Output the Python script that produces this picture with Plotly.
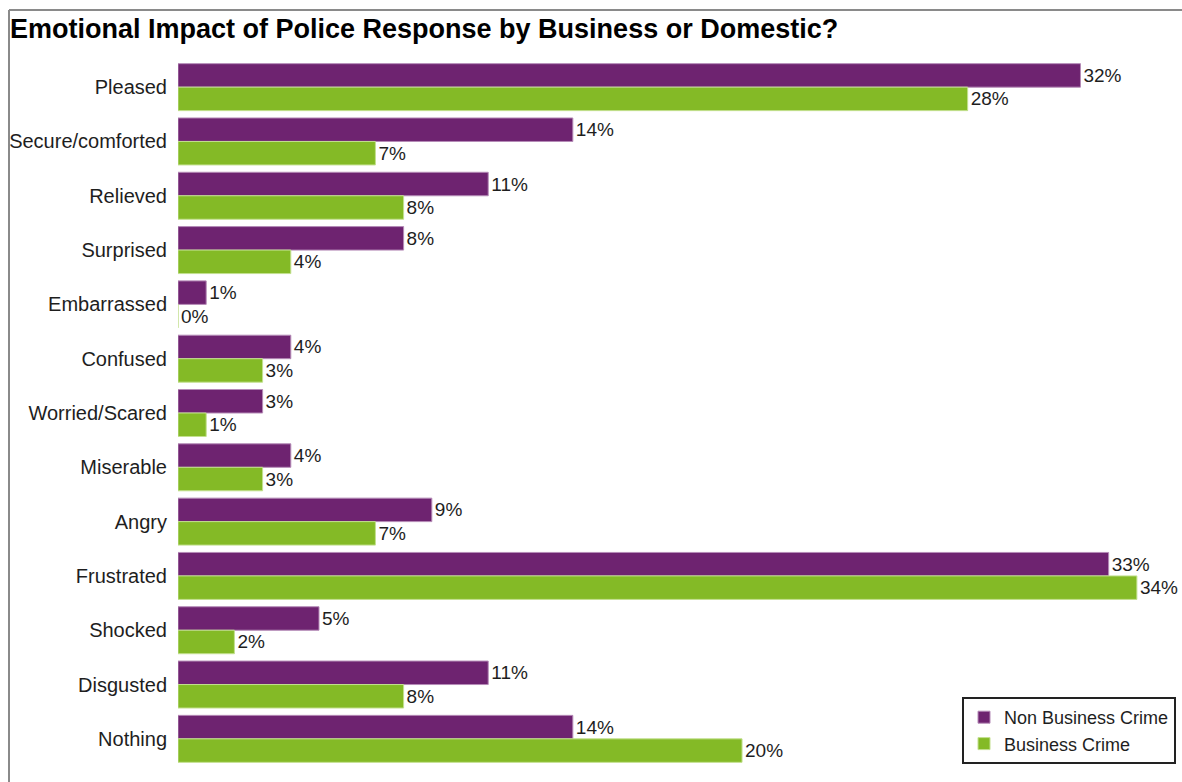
import plotly.graph_objects as go

# Emotional reactions to the police response, percent of respondents
categories = ["Pleased", "Secure/comforted", "Relieved", "Surprised", "Embarrassed",
              "Confused", "Worried/Scared", "Miserable", "Angry", "Frustrated",
              "Shocked", "Disgusted", "Nothing"]
non_business = [32, 14, 11, 8, 1, 4, 3, 4, 9, 33, 5, 11, 14]
business = [28, 7, 8, 4, 0, 3, 1, 3, 7, 34, 2, 8, 20]

PURPLE = "#6E2370"
GREEN = "#84BA26"
FONT = "Liberation Sans, Arial, sans-serif"
TXT = "#1e1e1e"

W, H = 1182, 782
ML, MR, MT, MB = 178, 0, 60, 16

fig = go.Figure()
for name, vals, col, edge in [
    ("Non Business Crime", non_business, PURPLE, "#B58BB7"),
    ("Business Crime", business, GREEN, "#C3E08F"),
]:
    fig.add_trace(go.Bar(
        y=categories, x=vals, name=name, orientation="h",
        marker=dict(color=col, line=dict(color=edge, width=1)),
        text=[f"{v}%" for v in vals], textposition="outside",
        textfont=dict(family=FONT, size=19, color=TXT),
        cliponaxis=False,
    ))

plot_w = W - ML - MR
plot_h = H - MT - MB

def px_x(p):
    return (p - ML) / plot_w

def px_y(p):
    return (H - MB - p) / plot_h

fig.update_layout(
    width=W, height=H,
    margin=dict(l=ML, r=MR, t=MT, b=MB, autoexpand=False),
    paper_bgcolor="white", plot_bgcolor="white",
    barmode="group", bargap=0.135, bargroupgap=0,
    font=dict(family=FONT, size=20, color=TXT),
    title=dict(
        text="<b>Emotional Impact of Police Response by Business or Domestic?</b>",
        x=10 / W, xanchor="left", xref="container",
        y=1 - 29 / H, yanchor="middle", yref="container",
        font=dict(family=FONT, size=27, color="black"),
    ),
    xaxis=dict(range=[0, 35.6], showticklabels=False, showgrid=False,
               zeroline=False, showline=False, ticks="", automargin=False),
    yaxis=dict(autorange="reversed", showgrid=False, zeroline=False,
               showline=False, ticks="", ticklabelstandoff=10, automargin=False,
               tickfont=dict(family=FONT, size=20, color=TXT)),
    legend=dict(
        x=px_x(962), y=px_y(697), xanchor="left", yanchor="top",
        bgcolor="white", bordercolor="#222222", borderwidth=2,
        font=dict(family=FONT, size=18, color=TXT),
        tracegroupgap=0, itemclick=False,
    ),
    showlegend=True,
    shapes=[
        dict(type="line", xref="paper", yref="paper",
             x0=px_x(9), x1=px_x(9), y0=px_y(10), y1=px_y(800),
             line=dict(color="#8a8a8a", width=2)),
        dict(type="line", xref="paper", yref="paper",
             x0=px_x(9), x1=px_x(1200), y0=px_y(10), y1=px_y(10),
             line=dict(color="#8a8a8a", width=2)),
    ],
)

fig.write_html("out.html")
